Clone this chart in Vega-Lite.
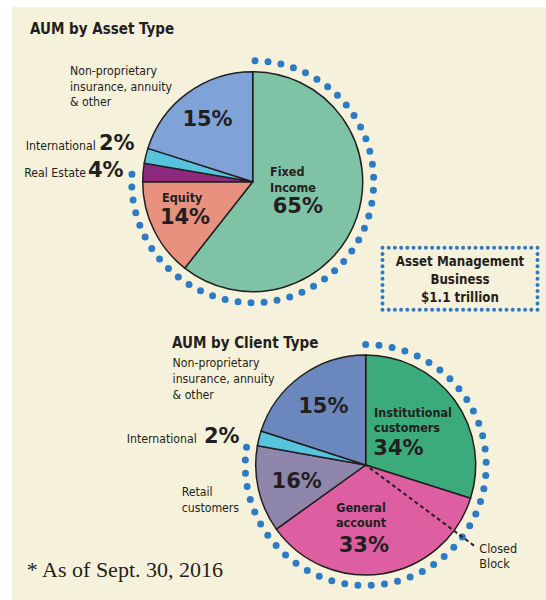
{
  "$schema": "https://vega.github.io/schema/vega-lite/v6.json",
  "width": 546,
  "height": 600,
  "autosize": {"type": "fit", "contains": "padding"},
  "padding": {"left": 12, "top": 7, "right": 0, "bottom": 0},
  "background": "#ffffff",
  "config": {"view": {"fill": "#f6f1da", "stroke": null}},
  "datasets": {
    "slices": [
      {"panel": "Asset", "rank": 1, "category": "Fixed Income", "share": 60.6, "name": "Fixed\nIncome", "pct": "65%"},
      {"panel": "Asset", "rank": 2, "category": "Equity", "share": 14.4, "name": "Equity", "pct": "14%"},
      {"panel": "Asset", "rank": 3, "category": "Real Estate", "share": 2.7, "name": "Real Estate", "pct": "4%"},
      {"panel": "Asset", "rank": 4, "category": "International", "share": 2.2, "name": "International", "pct": "2%"},
      {"panel": "Asset", "rank": 5, "category": "Non-proprietary insurance, annuity & other", "share": 20.1, "name": "Non-proprietary\ninsurance, annuity\n& other", "pct": "15%"},
      {"panel": "Client", "rank": 1, "category": "Institutional customers", "share": 29.9, "name": "Institutional\ncustomers", "pct": "34%"},
      {"panel": "Client", "rank": 2, "category": "General account", "share": 35.2, "name": "General\naccount", "pct": "33%"},
      {"panel": "Client", "rank": 3, "category": "Retail customers", "share": 12.7, "name": "Retail\ncustomers", "pct": "16%"},
      {"panel": "Client", "rank": 4, "category": "International", "share": 2.2, "name": "International", "pct": "2%"},
      {"panel": "Client", "rank": 5, "category": "Non-proprietary insurance, annuity & other", "share": 20.0, "name": "Non-proprietary\ninsurance, annuity\n& other", "pct": "15%"}
    ],
    "panels": [
      {"panel": "Asset", "title": "AUM by Asset Type", "box": "Asset Management\nBusiness\n$1.1 trillion"},
      {"panel": "Client", "title": "AUM by Client Type", "note": "Closed\nBlock", "footnote": "*\u2009As of Sept. 30, 2016"}
    ]
  },
  "encoding": {
    "x": {"field": "panel", "type": "nominal", "scale": {"type": "point", "domain": ["Asset", "Client"], "range": [240.7, 353.7], "padding": 0}, "axis": null},
    "y": {"field": "panel", "type": "nominal", "scale": {"type": "point", "domain": ["Asset", "Client"], "range": [174.7, 458], "padding": 0}, "axis": null}
  },
  "resolve": {"scale": {"color": "independent"}},
  "layer": [
    {
      "data": {"name": "slices"},
      "transform": [{"filter": "datum.panel === 'Asset'"}],
      "mark": {"type": "arc", "outerRadius": 110, "stroke": "#231f20", "strokeWidth": 1.5},
      "encoding": {
        "theta": {"field": "share", "type": "quantitative", "stack": true, "scale": {"domain": [0, 100]}},
        "order": {"field": "rank", "type": "quantitative"},
        "color": {"field": "category", "type": "nominal", "legend": null,
          "scale": {"domain": ["Fixed Income", "Equity", "Real Estate", "International", "Non-proprietary insurance, annuity & other"],
                    "range": ["#7fc3a6", "#e8917f", "#8a2b7f", "#57c4de", "#7fa3d7"]}}
      }
    },
    {
      "data": {"name": "slices"},
      "transform": [{"filter": "datum.panel === 'Client'"}],
      "mark": {"type": "arc", "outerRadius": 110, "stroke": "#231f20", "strokeWidth": 1.5},
      "encoding": {
        "theta": {"field": "share", "type": "quantitative", "stack": true, "scale": {"domain": [0, 100]}},
        "order": {"field": "rank", "type": "quantitative"},
        "color": {"field": "category", "type": "nominal", "legend": null,
          "scale": {"domain": ["Institutional customers", "General account", "Retail customers", "International", "Non-proprietary insurance, annuity & other"],
                    "range": ["#3bab7c", "#dd5fa2", "#8e86ab", "#57c4de", "#6a88bd"]}}
      }
    },
    {
      "data": {"name": "panels"},
      "transform": [{"filter": "datum.panel === 'Asset'"}],
      "mark": {"type": "arc", "theta": 0.0192, "theta2": 4.7752, "innerRadius": 121, "outerRadius": 121, "fill": "transparent", "stroke": "#2b7bc6", "strokeWidth": 7, "strokeCap": "round",
        "strokeDash": [
          0, 13.079, 0, 13.079, 0, 13.079, 0, 13.079, 0, 13.079, 0, 13.079, 0, 13.079, 0, 13.079, 0, 13.079, 0, 13.079, 0, 13.079,
          0, 13.079, 0, 13.079, 0, 13.079, 0, 13.079, 0, 13.079, 0, 13.079, 0, 13.079, 0, 13.079, 0, 13.079, 0, 13.079, 0, 13.079,
          0, 13.079, 0, 13.079, 0, 13.079, 0, 13.079, 0, 13.079, 0, 13.079, 0, 13.079, 0, 13.079, 0, 13.079, 0, 13.079, 0, 13.079,
          0, 13.079, 0, 13.079, 0, 13.079, 0, 13.079, 0, 13.079, 0, 13.079, 0, 13.079, 0, 13.079, 0, 13.079, 0, 13.079, 0, 13.079,
          0, 5000]},
      "encoding": {}
    },
    {
      "data": {"name": "panels"},
      "transform": [{"filter": "datum.panel === 'Client'"}],
      "mark": {"type": "arc", "theta": 0, "theta2": 4.8625, "innerRadius": 120.5, "outerRadius": 120.5, "fill": "transparent", "stroke": "#2b7bc6", "strokeWidth": 7, "strokeCap": "round",
        "strokeDash": [
          0, 13.315, 0, 13.315, 0, 13.315, 0, 13.315, 0, 13.315, 0, 13.315, 0, 13.315, 0, 13.315, 0, 13.315, 0, 13.315, 0, 13.315,
          0, 13.315, 0, 13.315, 0, 13.315, 0, 13.315, 0, 13.315, 0, 13.315, 0, 13.315, 0, 13.315, 0, 13.315, 0, 13.315, 0, 13.315,
          0, 13.315, 0, 13.315, 0, 13.315, 0, 13.315, 0, 13.315, 0, 13.315, 0, 13.315, 0, 13.315, 0, 13.315, 0, 13.315, 0, 13.315,
          0, 13.315, 0, 13.315, 0, 13.315, 0, 13.315, 0, 13.315, 0, 13.315, 0, 13.315, 0, 13.315, 0, 13.315, 0, 13.315, 0, 13.315,
          0, 5000]},
      "encoding": {}
    },
    {
      "data": {"name": "panels"},
      "transform": [{"filter": "datum.panel === 'Client'"}],
      "mark": {"type": "arc", "theta": 2.211, "theta2": 2.211, "innerRadius": 0, "outerRadius": 135, "fill": "transparent", "stroke": "#231f20", "strokeWidth": 2,
        "strokeDash": [4, 3, 4, 3, 4, 3, 4, 3, 4, 3, 4, 3, 4, 3, 4, 3, 4, 3, 4, 3, 4, 3, 4, 3, 4, 3, 4, 3, 4, 3, 4, 3, 4, 3, 4, 3, 4, 3, 2, 5000]},
      "encoding": {}
    },
    {
      "data": {"name": "panels"},
      "transform": [{"filter": "datum.panel === 'Asset'"}],
      "mark": {"type": "rect", "width": 155, "height": 62, "xOffset": 207.3, "yOffset": 97, "fill": "transparent", "stroke": "#2b7bc6", "strokeWidth": 4, "strokeCap": "round", "strokeDash": [0, 6.2]},
      "encoding": {}
    },
    {
      "data": {"name": "panels"},
      "mark": {"type": "text", "align": "left", "baseline": "alphabetic", "font": "DejaVu Sans Condensed, DejaVu Sans, sans-serif", "fontWeight": "bold", "fontSize": 15, "fill": "#231f20", "dx": -222.7, "dy": -148.2},
      "transform": [{"filter": "datum.panel === 'Asset'"}],
      "encoding": {"text": {"field": "title"}}
    },
    {
      "data": {"name": "panels"},
      "mark": {"type": "text", "align": "left", "baseline": "alphabetic", "font": "DejaVu Sans Condensed, DejaVu Sans, sans-serif", "fontWeight": "bold", "fontSize": 15, "fill": "#231f20", "dx": -193.7, "dy": -116.7},
      "transform": [{"filter": "datum.panel === 'Client'"}],
      "encoding": {"text": {"field": "title"}}
    },
    {
      "data": {"name": "panels"},
      "mark": {"type": "text", "align": "center", "baseline": "alphabetic", "font": "DejaVu Sans Condensed, DejaVu Sans, sans-serif", "fontWeight": "bold", "fontSize": 13.2, "lineBreak": "\n", "lineHeight": 17.8, "fill": "#231f20", "dx": 207.3, "dy": 84.3},
      "transform": [{"filter": "datum.panel === 'Asset'"}],
      "encoding": {"text": {"field": "box"}}
    },
    {
      "data": {"name": "panels"},
      "mark": {"type": "text", "align": "left", "baseline": "alphabetic", "font": "DejaVu Sans Condensed, DejaVu Sans, sans-serif", "fontSize": 12.5, "lineBreak": "\n", "lineHeight": 15, "fill": "#231f20", "dx": 113.6, "dy": 88.3},
      "transform": [{"filter": "datum.panel === 'Client'"}],
      "encoding": {"text": {"field": "note"}}
    },
    {
      "data": {"name": "panels"},
      "mark": {"type": "text", "align": "left", "baseline": "alphabetic", "font": "Liberation Serif", "fontSize": 22, "fill": "#231f20", "dx": -339, "dy": 111.7},
      "transform": [{"filter": "datum.panel === 'Client'"}],
      "encoding": {"text": {"field": "footnote"}}
    },
    {
      "data": {"name": "slices"},
      "transform": [{"filter": "datum.panel === 'Asset' && datum.rank === 5"}],
      "mark": {"type": "text", "align": "left", "baseline": "alphabetic", "font": "DejaVu Sans Condensed, DejaVu Sans, sans-serif", "fontSize": 12.2, "lineBreak": "\n", "lineHeight": 15.7, "fill": "#231f20", "dx": -182.7, "dy": -106.7},
      "encoding": {"text": {"field": "name"}}
    },
    {
      "data": {"name": "slices"},
      "transform": [{"filter": "datum.panel === 'Asset' && datum.rank === 4"}],
      "mark": {"type": "text", "align": "right", "baseline": "alphabetic", "font": "DejaVu Sans Condensed, DejaVu Sans, sans-serif", "fontSize": 12.2, "fill": "#231f20", "dx": -157, "dy": -31.7},
      "encoding": {"text": {"field": "name"}}
    },
    {
      "data": {"name": "slices"},
      "transform": [{"filter": "datum.panel === 'Asset' && datum.rank === 4"}],
      "mark": {"type": "text", "align": "left", "baseline": "alphabetic", "font": "DejaVu Sans", "fontWeight": "bold", "fontSize": 21, "fill": "#231f20", "dx": -153.7, "dy": -31.7},
      "encoding": {"text": {"field": "pct"}}
    },
    {
      "data": {"name": "slices"},
      "transform": [{"filter": "datum.panel === 'Asset' && datum.rank === 3"}],
      "mark": {"type": "text", "align": "right", "baseline": "alphabetic", "font": "DejaVu Sans Condensed, DejaVu Sans, sans-serif", "fontSize": 12.2, "fill": "#231f20", "dx": -166.7, "dy": -5},
      "encoding": {"text": {"field": "name"}}
    },
    {
      "data": {"name": "slices"},
      "transform": [{"filter": "datum.panel === 'Asset' && datum.rank === 3"}],
      "mark": {"type": "text", "align": "left", "baseline": "alphabetic", "font": "DejaVu Sans", "fontWeight": "bold", "fontSize": 21, "fill": "#231f20", "dx": -164.7, "dy": -5},
      "encoding": {"text": {"field": "pct"}}
    },
    {
      "data": {"name": "slices"},
      "transform": [{"filter": "datum.panel === 'Asset' && datum.rank === 5"}],
      "mark": {"type": "text", "align": "center", "baseline": "alphabetic", "font": "DejaVu Sans", "fontWeight": "bold", "fontSize": 21, "fill": "#231f20", "dx": -45.2, "dy": -55.7},
      "encoding": {"text": {"field": "pct"}}
    },
    {
      "data": {"name": "slices"},
      "transform": [{"filter": "datum.panel === 'Asset' && datum.rank === 1"}],
      "mark": {"type": "text", "align": "left", "baseline": "alphabetic", "font": "DejaVu Sans Condensed, DejaVu Sans, sans-serif", "fontWeight": "bold", "fontSize": 12.5, "lineBreak": "\n", "lineHeight": 15.7, "fill": "#231f20", "dx": 17.3, "dy": -5.7},
      "encoding": {"text": {"field": "name"}}
    },
    {
      "data": {"name": "slices"},
      "transform": [{"filter": "datum.panel === 'Asset' && datum.rank === 1"}],
      "mark": {"type": "text", "align": "left", "baseline": "alphabetic", "font": "DejaVu Sans", "fontWeight": "bold", "fontSize": 21, "fill": "#231f20", "dx": 20, "dy": 31},
      "encoding": {"text": {"field": "pct"}}
    },
    {
      "data": {"name": "slices"},
      "transform": [{"filter": "datum.panel === 'Asset' && datum.rank === 2"}],
      "mark": {"type": "text", "align": "center", "baseline": "alphabetic", "font": "DejaVu Sans Condensed, DejaVu Sans, sans-serif", "fontWeight": "bold", "fontSize": 12.5, "fill": "#231f20", "dx": -70.5, "dy": 20},
      "encoding": {"text": {"field": "name"}}
    },
    {
      "data": {"name": "slices"},
      "transform": [{"filter": "datum.panel === 'Asset' && datum.rank === 2"}],
      "mark": {"type": "text", "align": "center", "baseline": "alphabetic", "font": "DejaVu Sans", "fontWeight": "bold", "fontSize": 21, "fill": "#231f20", "dx": -67.7, "dy": 42.6},
      "encoding": {"text": {"field": "pct"}}
    },
    {
      "data": {"name": "slices"},
      "transform": [{"filter": "datum.panel === 'Client' && datum.rank === 5"}],
      "mark": {"type": "text", "align": "left", "baseline": "alphabetic", "font": "DejaVu Sans Condensed, DejaVu Sans, sans-serif", "fontSize": 12.2, "lineBreak": "\n", "lineHeight": 16, "fill": "#231f20", "dx": -193.1, "dy": -98.3},
      "encoding": {"text": {"field": "name"}}
    },
    {
      "data": {"name": "slices"},
      "transform": [{"filter": "datum.panel === 'Client' && datum.rank === 4"}],
      "mark": {"type": "text", "align": "right", "baseline": "alphabetic", "font": "DejaVu Sans Condensed, DejaVu Sans, sans-serif", "fontSize": 12.2, "fill": "#231f20", "dx": -169, "dy": -21.7},
      "encoding": {"text": {"field": "name"}}
    },
    {
      "data": {"name": "slices"},
      "transform": [{"filter": "datum.panel === 'Client' && datum.rank === 4"}],
      "mark": {"type": "text", "align": "left", "baseline": "alphabetic", "font": "DejaVu Sans", "fontWeight": "bold", "fontSize": 21, "fill": "#231f20", "dx": -161.7, "dy": -21.7},
      "encoding": {"text": {"field": "pct"}}
    },
    {
      "data": {"name": "slices"},
      "transform": [{"filter": "datum.panel === 'Client' && datum.rank === 3"}],
      "mark": {"type": "text", "align": "left", "baseline": "alphabetic", "font": "DejaVu Sans Condensed, DejaVu Sans, sans-serif", "fontSize": 12.2, "lineBreak": "\n", "lineHeight": 15.7, "fill": "#231f20", "dx": -184, "dy": 31},
      "encoding": {"text": {"field": "name"}}
    },
    {
      "data": {"name": "slices"},
      "transform": [{"filter": "datum.panel === 'Client' && datum.rank === 3"}],
      "mark": {"type": "text", "align": "center", "baseline": "alphabetic", "font": "DejaVu Sans", "fontWeight": "bold", "fontSize": 21, "fill": "#231f20", "dx": -69, "dy": 23.3},
      "encoding": {"text": {"field": "pct"}}
    },
    {
      "data": {"name": "slices"},
      "transform": [{"filter": "datum.panel === 'Client' && datum.rank === 5"}],
      "mark": {"type": "text", "align": "center", "baseline": "alphabetic", "font": "DejaVu Sans", "fontWeight": "bold", "fontSize": 21, "fill": "#231f20", "dx": -42.4, "dy": -51.7},
      "encoding": {"text": {"field": "pct"}}
    },
    {
      "data": {"name": "slices"},
      "transform": [{"filter": "datum.panel === 'Client' && datum.rank === 1"}],
      "mark": {"type": "text", "align": "left", "baseline": "alphabetic", "font": "DejaVu Sans Condensed, DejaVu Sans, sans-serif", "fontWeight": "bold", "fontSize": 12.5, "lineBreak": "\n", "lineHeight": 15, "fill": "#231f20", "dx": 8.3, "dy": -48.3},
      "encoding": {"text": {"field": "name"}}
    },
    {
      "data": {"name": "slices"},
      "transform": [{"filter": "datum.panel === 'Client' && datum.rank === 1"}],
      "mark": {"type": "text", "align": "left", "baseline": "alphabetic", "font": "DejaVu Sans", "fontWeight": "bold", "fontSize": 21, "fill": "#231f20", "dx": 7.6, "dy": -10},
      "encoding": {"text": {"field": "pct"}}
    },
    {
      "data": {"name": "slices"},
      "transform": [{"filter": "datum.panel === 'Client' && datum.rank === 2"}],
      "mark": {"type": "text", "align": "center", "baseline": "alphabetic", "font": "DejaVu Sans Condensed, DejaVu Sans, sans-serif", "fontWeight": "bold", "fontSize": 12.5, "lineBreak": "\n", "lineHeight": 15, "fill": "#231f20", "dx": -4.7, "dy": 46.7},
      "encoding": {"text": {"field": "name"}}
    },
    {
      "data": {"name": "slices"},
      "transform": [{"filter": "datum.panel === 'Client' && datum.rank === 2"}],
      "mark": {"type": "text", "align": "center", "baseline": "alphabetic", "font": "DejaVu Sans", "fontWeight": "bold", "fontSize": 21, "fill": "#231f20", "dx": -1.9, "dy": 86.7},
      "encoding": {"text": {"field": "pct"}}
    }
  ]
}
